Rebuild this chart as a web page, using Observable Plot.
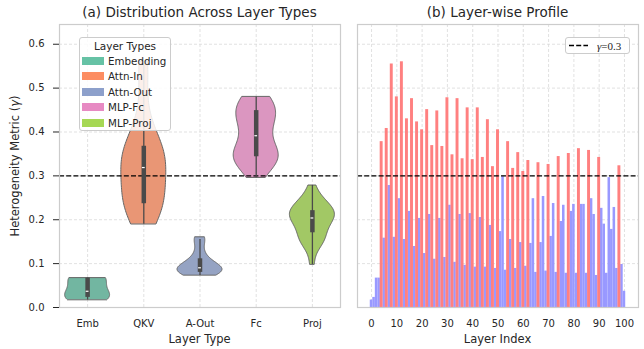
<!DOCTYPE html>
<html>
<head>
<meta charset="utf-8">
<script src="https://cdn.jsdelivr.net/npm/d3@7"></script>
<script src="https://cdn.jsdelivr.net/npm/@observablehq/plot@0.6"></script>
<style>
  body { margin: 0; background: #fff; }
  #wrap { position: relative; width: 644px; height: 349px; background: #fff; font-family: "DejaVu Sans", sans-serif; color: #262626; overflow: hidden; }
  .abs { position: absolute; white-space: nowrap; }
  .plot { position: absolute; top: 0; }
  .title { font-size: 13.5px; transform: translate(-50%, -50%); }
  .axlab { font-size: 11.5px; transform: translate(-50%, -50%); }
  .legend { position: absolute; background: rgba(255,255,255,0.85); border: 1px solid #cccccc; border-radius: 3px; box-sizing: border-box; }
</style>
</head>
<body>
<div id="wrap"></div>
<script>
// ---------------- DATA ----------------
const categories = ["Emb", "QKV", "A-Out", "Fc", "Proj"];
const typeCodes = ["E", "Q", "A", "F", "P"];
const legendNames = ["Embedding", "Attn-In", "Attn-Out", "MLP-Fc", "MLP-Proj"];
const typeColors = ["#66c2a5", "#fc8d62", "#8da0cb", "#e78ac3", "#a6d854"];

// heterogeneity metric per layer (layer index = position in array)
const layerValues = [
  0.017, 0.023, 0.067, 0.067, 0.378, 0.158, 0.408, 0.278, 0.555, 0.160,
  0.480, 0.248, 0.560, 0.155, 0.430, 0.219, 0.476, 0.139, 0.423, 0.203,
  0.405, 0.123, 0.451, 0.212, 0.369, 0.110, 0.448, 0.203, 0.367, 0.114,
  0.478, 0.233, 0.348, 0.103, 0.476, 0.212, 0.339, 0.096, 0.455, 0.214,
  0.337, 0.092, 0.455, 0.205, 0.342, 0.092, 0.428, 0.187, 0.321, 0.089,
  0.405, 0.173, 0.298, 0.085, 0.378, 0.155, 0.317, 0.089, 0.353, 0.148,
  0.310, 0.094, 0.335, 0.146, 0.248, 0.080, 0.330, 0.148, 0.253, 0.083,
  0.326, 0.162, 0.237, 0.080, 0.344, 0.196, 0.233, 0.078, 0.351, 0.219,
  0.235, 0.078, 0.362, 0.235, 0.235, 0.078, 0.358, 0.248, 0.212, 0.073,
  0.342, 0.226, 0.190, 0.078, 0.296, 0.178, 0.228, 0.089, 0.323, 0.098,
  0.037
];
// layer type of each layer (E=Embedding, Q=Attn-In, A=Attn-Out, F=MLP-Fc, P=MLP-Proj)
const layerTypes = ("EEEE" +
  "QAFPQAFPQAFPQAFPQAFPQAFP" +
  "QAFPQAFPQAFPQAFPQAFPQAFP" +
  "QAFPQAFPQAFPQAFPQAFPQAFP" +
  "QAFPQAFPQAFPQAFPQAFPQAFP" +
  "E").split("");

const threshold = 0.3;
const yTicks = [0, 0.1, 0.2, 0.3, 0.4, 0.5, 0.6];
const xTicksRight = [0, 10, 20, 30, 40, 50, 60, 70, 80, 90, 100];
const catPositions = [0, 1, 2, 3, 4];

// --------------- helpers ---------------
const layers = layerValues.map((v, i) => ({i, v, t: layerTypes[i]}));
function desat(c, s) { const h = d3.hsl(c); h.s *= s; return h.formatHex(); }

function violin(vals, pos) {
  const n = vals.length;
  const sd = d3.deviation(vals);
  const bw = sd * Math.pow(n, -1 / 5);
  const lo = d3.min(vals), hi = d3.max(vals);
  const G = 100;
  const pts = [];
  for (let g = 0; g < G; g++) {
    const y = lo + (hi - lo) * g / (G - 1);
    let d = 0;
    for (const v of vals) d += Math.exp(-0.5 * ((y - v) / bw) ** 2);
    pts.push({y, d});
  }
  const mx = d3.max(pts, p => p.d);
  return pts.map(p => ({y: p.y, x1: pos - 0.4 * p.d / mx, x2: pos + 0.4 * p.d / mx}));
}
function boxStats(vals, pos) {
  const s = vals.slice().sort(d3.ascending);
  const q1 = d3.quantileSorted(s, 0.25), q3 = d3.quantileSorted(s, 0.75), med = d3.quantileSorted(s, 0.5);
  const iqr = q3 - q1;
  const wlo = d3.min(s.filter(v => v >= q1 - 1.5 * iqr));
  const whi = d3.max(s.filter(v => v <= q3 + 1.5 * iqr));
  return {pos, q1, q3, med, wlo, whi};
}

const gridStyle = {stroke: "#d9d9d9", strokeOpacity: 1, strokeDasharray: "3,2", strokeWidth: 0.8};
const yDomain = [0, 0.645];

// --------------- left panel ---------------
const violinMarks = [];
const boxes = [];
typeCodes.forEach((code, k) => {
  const vals = layers.filter(d => d.t === code).map(d => d.v);
  violinMarks.push(Plot.areaX(violin(vals, k), {y: "y", x1: "x1", x2: "x2",
    fill: desat(typeColors[k], 0.75), stroke: "#666666", strokeWidth: 1, curve: "linear"}));
  boxes.push(boxStats(vals, k));
});

const left = Plot.plot({
  width: 348, height: 349,
  marginLeft: 59, marginRight: 8, marginTop: 24, marginBottom: 42,
  style: {fontFamily: "DejaVu Sans", fontSize: "10px", color: "#262626", background: "transparent"},
  x: {domain: [-0.5, 4.5]},
  y: {domain: yDomain},
  marks: [
    Plot.gridY({ticks: yTicks, ...gridStyle}),
    Plot.gridX({ticks: catPositions, ...gridStyle}),
    ...violinMarks,
    Plot.ruleY([threshold], {stroke: "#000", strokeWidth: 1.4, strokeDasharray: "5,2.2"}),
    Plot.ruleX(boxes, {x: "pos", y1: "wlo", y2: "whi", stroke: "#4a4a4a", strokeWidth: 1.3}),
    Plot.ruleX(boxes, {x: "pos", y1: "q1", y2: "q3", stroke: "#4a4a4a", strokeWidth: 4.5}),
    Plot.ruleY(boxes, {y: "med", x1: d => d.pos - 0.025, x2: d => d.pos + 0.025, stroke: "#ffffff", strokeWidth: 1.2}),
    Plot.frame({stroke: "#cccccc", strokeWidth: 1.2}),
    Plot.axisY({ticks: yTicks, tickFormat: d3.format(".1f"), tickSize: 6, tickPadding: 9, stroke: "#262626", label: null, fontSize: 10}),
    Plot.axisX({ticks: catPositions, tickFormat: i => categories[i], tickSize: 0, tickPadding: 12, label: null, fontSize: 10})
  ]
});
left.classList.add("plot");
left.style.left = "0px";

// --------------- right panel ---------------
const right = Plot.plot({
  width: 296, height: 349,
  marginLeft: 9, marginRight: 6, marginTop: 24, marginBottom: 42,
  style: {fontFamily: "DejaVu Sans", fontSize: "10px", color: "#262626", background: "transparent"},
  x: {domain: [-5.55, 105.55]},
  y: {domain: yDomain, axis: null},
  marks: [
    Plot.gridY({ticks: yTicks, ...gridStyle}),
    Plot.gridX({ticks: xTicksRight, ...gridStyle}),
    Plot.rectY(layers.filter(d => d.v <= threshold), {x1: d => d.i - 0.5, x2: d => d.i + 0.5, y1: 0, y2: "v", fill: "#9999ff"}),
    Plot.rectY(layers.filter(d => d.v > threshold), {x1: d => d.i - 0.58, x2: d => d.i + 0.58, y1: 0, y2: "v", fill: "#ff8080"}),
    Plot.ruleY([threshold], {stroke: "#000", strokeWidth: 1.4, strokeDasharray: "5,2.2"}),
    Plot.frame({stroke: "#cccccc", strokeWidth: 1.2}),
    Plot.axisX({ticks: xTicksRight, tickSize: 0, tickPadding: 12, label: null, fontSize: 10})
  ]
});
right.classList.add("plot");
right.style.left = "348px";

// --------------- assemble ---------------
const wrap = document.getElementById("wrap");
wrap.appendChild(left);
wrap.appendChild(right);

function addText(html, x, y, cls, extra) {
  const d = document.createElement("div");
  d.className = "abs " + cls;
  d.innerHTML = html;
  d.style.left = x + "px";
  d.style.top = y + "px";
  if (extra) Object.assign(d.style, extra);
  wrap.appendChild(d);
  return d;
}
addText("(a) Distribution Across Layer Types", 199.5, 11.5, "title");
addText("(b) Layer-wise Profile", 497.5, 11.5, "title");
addText("Layer Type", 199.5, 339, "axlab");
addText("Layer Index", 497.5, 339, "axlab");
addText("Heterogeneity Metric (<i>γ</i>)", 15, 165.5, "axlab", {transform: "translate(-50%, -50%) rotate(-90deg)"});

// left legend
const lg = document.createElement("div");
lg.className = "legend";
Object.assign(lg.style, {left: "79px", top: "37px", width: "92px", height: "94px"});
let html = '<div style="position:absolute;left:0;right:0;top:2px;text-align:center;font-size:10.5px;">Layer Types</div>';
legendNames.forEach((name, k) => {
  const cy = 23 + k * 15.4;
  html += `<div style="position:absolute;left:2px;top:${cy - 4}px;width:22px;height:8px;background:${typeColors[k]}"></div>`;
  html += `<div style="position:absolute;left:28px;top:${cy - 7}px;font-size:10.3px;line-height:14px;">${name}</div>`;
});
lg.innerHTML = html;
wrap.appendChild(lg);

// right legend
const rg = document.createElement("div");
rg.className = "legend";
Object.assign(rg.style, {left: "565px", top: "37px", width: "65px", height: "17px"});
rg.innerHTML = '<svg width="22" height="15" style="position:absolute;left:3px;top:0px"><line x1="0" y1="7.5" x2="19" y2="7.5" stroke="#000" stroke-width="1.4" stroke-dasharray="5,2.2"/></svg>' +
  '<div style="position:absolute;left:31px;top:1px;font-family:\'Liberation Serif\',serif;font-size:11px;line-height:14px;"><i>γ</i>=0.3</div>';
wrap.appendChild(rg);
</script>
</body>
</html>
